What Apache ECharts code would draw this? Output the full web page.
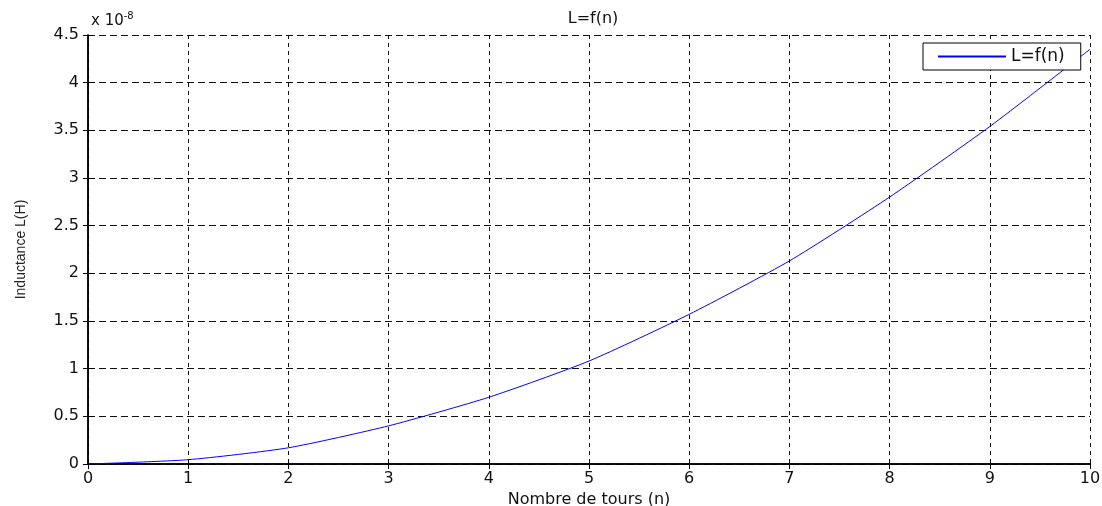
<!DOCTYPE html>
<html>
<head>
<meta charset="utf-8">
<script src="https://cdn.jsdelivr.net/npm/echarts@6/dist/echarts.min.js"></script>
<style>
  html, body { margin: 0; padding: 0; background: #fff; }
  #chart { width: 1102px; height: 506px; }
</style>
</head>
<body>
<div id="chart"></div>
<script>
// turns n and inductance (x 1e-8 H)
const turns = [0, 1, 2, 3, 4, 5, 6, 7, 8, 9, 10]
const inductance = [0, 0.045, 0.17, 0.40, 0.70, 1.08, 1.57, 2.13, 2.80, 3.54, 4.35]

const font = 'DejaVu Sans'
const gridDash = { color: '#111', width: 1 }

const chart = echarts.init(document.getElementById('chart'))

const tickStyle = { inside: true, length: 5, lineStyle: { color: '#000', width: 1 } }

chart.setOption({
  animation: false,
  title: [
    {
      text: 'L=f(n)',
      left: 588,
      top: 6,
      textAlign: 'center',
      textStyle: { fontFamily: font, fontSize: 16, fontWeight: 'normal', color: '#111' }
    },
    {
      text: 'x 10{sup|-8}',
      left: 86,
      top: 6,
      textStyle: {
        fontFamily: font, fontSize: 15, fontWeight: 'normal', color: '#111',
        rich: { sup: { fontFamily: font, fontSize: 10, verticalAlign: 'top', padding: [0, 0, 10, 0], color: '#111' } }
      }
    }
  ],
  legend: {
    left: 923,
    top: 43,
    padding: [5, 16, 5, 14],
    itemWidth: 68,
    itemHeight: 16,
    backgroundColor: '#fff',
    borderColor: '#000',
    borderWidth: 1,
    borderRadius: 0,
    itemStyle: { color: 'transparent', borderWidth: 0, opacity: 0 },
    textStyle: { fontFamily: font, fontSize: 17, color: '#111' },
    data: ['L=f(n)']
  },
  grid: { left: 88, right: 12, top: 35, bottom: 42, outerBoundsMode: 'none', containLabel: false },
  xAxis: [
    {
      type: 'value',
      min: 0, max: 10, interval: 1,
      name: 'Nombre de tours (n)',
      nameLocation: 'middle',
      nameGap: 20,
      nameTextStyle: { fontFamily: font, fontSize: 16, color: '#111' },
      axisLine: { lineStyle: { color: '#000', width: 1.5 } },
      axisTick: tickStyle,
      axisLabel: { fontFamily: font, fontSize: 16, color: '#111', margin: 7 },
      splitLine: { show: true, lineStyle: { ...gridDash, type: [4, 4] } }
    },
    {
      type: 'value',
      position: 'top',
      min: 0, max: 10, interval: 1,
      axisLine: { show: true, lineStyle: { color: '#000', width: 1.5 } },
      axisTick: tickStyle,
      axisLabel: { show: false },
      splitLine: { show: false }
    }
  ],
  yAxis: [
    {
      type: 'value',
      min: 0, max: 4.5, interval: 0.5,
      name: 'Inductance L(H)',
      nameLocation: 'middle',
      nameGap: 60,
      nameTextStyle: { fontFamily: 'Liberation Sans', fontSize: 14, color: '#222' },
      axisLine: { show: true, lineStyle: { color: '#000', width: 1.5 } },
      axisTick: { show: true, ...tickStyle },
      axisLabel: { fontFamily: font, fontSize: 16, color: '#111', margin: 9 },
      splitLine: { show: true, lineStyle: { ...gridDash, type: [7, 4] } }
    },
    {
      type: 'value',
      position: 'right',
      min: 0, max: 4.5, interval: 0.5,
      axisLine: { show: true, lineStyle: { color: '#000', width: 1.5 } },
      axisTick: { show: true, ...tickStyle },
      axisLabel: { show: false },
      splitLine: { show: false }
    }
  ],
  series: [
    {
      name: 'L=f(n)',
      type: 'line',
      xAxisIndex: 0,
      yAxisIndex: 0,
      data: turns.map((n, i) => [n, inductance[i]]),
      symbol: 'none',
      smooth: 0.2,
      lineStyle: { color: '#0000ff', width: 1 },
      itemStyle: { color: '#0000ff' }
    }
  ]
})

window.addEventListener('resize', () => {
  chart.resize()
})
</script>
</body>
</html>
